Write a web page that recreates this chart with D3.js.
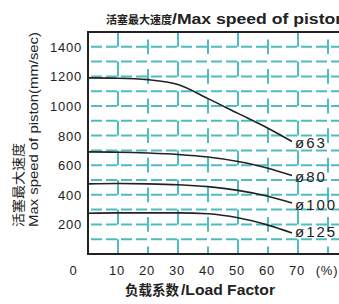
<!DOCTYPE html>
<html>
<head>
  <meta charset="UTF-8">
  <style>
    body { margin: 0; background: #fff; }
    svg { display: block; font-family: "Liberation Sans", Arial, sans-serif; }
    text { fill: #222; }
  </style>
</head>
<body>
  <svg></svg>
  <script src="https://d3js.org/d3.v7.min.js"></script>
  <script>
    // data
    let loadFactor = [0, 10, 20, 30, 40, 50, 60, 68];
    let bore63 = [1190, 1188, 1178, 1145, 1050, 950, 850, 760];
    let bore80 = [690, 688, 682, 672, 655, 625, 580, 530];
    let bore100 = [474, 476, 474, 468, 455, 430, 390, 345];
    let bore125 = [275, 278, 278, 278, 272, 245, 195, 142];
    let seriesNames = ["ø63", "ø80", "ø100", "ø125"];
    let yTicks = [200, 400, 600, 800, 1000, 1200, 1400];
    let xTicks = [10, 20, 30, 40, 50, 60, 70];
    let xTickLabels = ["10", "20", "30", "40", "50", "60", "70", "(%)"];

    let width = 339, height = 304;
    let svg = d3.select("svg").attr("width", width).attr("height", height);

    let x = d3.scaleLinear().domain([0, 84]).range([88, 340]);
    let y = d3.scaleLinear().domain([0, 1500]).range([254, 32]);
    let teal = "#4fbcc0";
    let step = y(0) - y(100);

    // horizontal dashed grid, every 100
    svg.append("g")
      .selectAll("line")
      .data(d3.range(100, 1500, 100))
      .enter()
      .append("line")
      .attr("x1", 91).attr("x2", width + 2)
      .attr("y1", d => y(d)).attr("y2", d => y(d))
      .attr("stroke", teal)
      .attr("stroke-width", 2)
      .attr("stroke-dasharray", "11,4");

    // vertical dashed grid
    svg.append("g")
      .selectAll("line")
      .data(d3.range(10, 90, 10))
      .enter()
      .append("line")
      .attr("x1", d => x(d)).attr("x2", d => x(d))
      .attr("y1", y(0)).attr("y2", y(1500))
      .attr("stroke", teal)
      .attr("stroke-width", 2)
      .attr("stroke-dasharray", step + "," + step)
      .attr("stroke-dashoffset", (d, i) => (i % 2) ? step * 0.5 : 0);

    // frame
    svg.append("path")
      .attr("d", "M" + (width + 2) + "," + y(1500) + "H" + x(0) + "V" + y(0) + "H" + (width + 2))
      .attr("fill", "none")
      .attr("stroke", "#222")
      .attr("stroke-width", 2);

    // curves
    let line = d3.line()
      .x((d, i) => x(loadFactor[i]))
      .y(d => y(d))
      .curve(d3.curveMonotoneX);

    let allSeries = [bore63, bore80, bore100, bore125];
    let labelY = [148, 182, 210, 237];

    svg.append("g")
      .selectAll("path")
      .data(allSeries)
      .enter()
      .append("path")
      .attr("d", line)
      .attr("fill", "none")
      .attr("stroke", "#222")
      .attr("stroke-width", 1.6);

    svg.append("g")
      .selectAll("text")
      .data(seriesNames)
      .enter()
      .append("text")
      .attr("x", 295)
      .attr("y", (d, i) => labelY[i])
      .attr("font-size", 15)
      .attr("letter-spacing", 2)
      .text(d => d);

    // y tick labels
    svg.append("g")
      .selectAll("text")
      .data(yTicks)
      .enter()
      .append("text")
      .attr("x", 82)
      .attr("y", d => y(d) + 5)
      .attr("text-anchor", "end")
      .attr("font-size", 13)
      .attr("letter-spacing", 0.8)
      .text(d => d);

    // x tick labels
    svg.append("g")
      .selectAll("text")
      .data(xTickLabels)
      .enter()
      .append("text")
      .attr("x", (d, i) => x(i < xTicks.length ? xTicks[i] : 80) - 1)
      .attr("y", 275)
      .attr("text-anchor", "middle")
      .attr("font-size", 13)
      .attr("letter-spacing", 0.8)
      .text(d => d);

    svg.append("text")
      .attr("x", 73).attr("y", 275)
      .attr("text-anchor", "middle")
      .attr("font-size", 13)
      .text("0");

    // title
    svg.append("text")
      .attr("x", 106).attr("y", 24)
      .attr("font-size", 11)
      .attr("font-family", "Noto Sans CJK SC")
      .attr("font-weight", "bold")
      .text("活塞最大速度");
    svg.append("text")
      .attr("x", 172).attr("y", 24)
      .attr("font-size", 14)
      .attr("font-weight", "bold")
      .attr("textLength", 174).attr("lengthAdjust", "spacingAndGlyphs")
      .text("/Max speed of piston");

    // y axis title
    svg.append("text")
      .attr("transform", "translate(23,227) rotate(-90)")
      .attr("font-size", 13)
      .attr("font-family", "Noto Sans CJK SC")
      .attr("textLength", 84).attr("lengthAdjust", "spacingAndGlyphs")
      .text("活塞最大速度");
    svg.append("text")
      .attr("transform", "translate(38,227) rotate(-90)")
      .attr("font-size", 13)
      .attr("textLength", 195).attr("lengthAdjust", "spacingAndGlyphs")
      .text("Max speed of piston(mm/sec)");

    // x axis title
    svg.append("text")
      .attr("x", 125).attr("y", 295)
      .attr("font-size", 14)
      .attr("font-family", "Noto Sans CJK SC")
      .attr("font-weight", "bold")
      .attr("textLength", 54).attr("lengthAdjust", "spacingAndGlyphs")
      .text("负载系数");
    svg.append("text")
      .attr("x", 181).attr("y", 295)
      .attr("font-size", 14)
      .attr("font-weight", "bold")
      .attr("textLength", 94).attr("lengthAdjust", "spacingAndGlyphs")
      .text("/Load Factor");
  </script>
</body>
</html>
